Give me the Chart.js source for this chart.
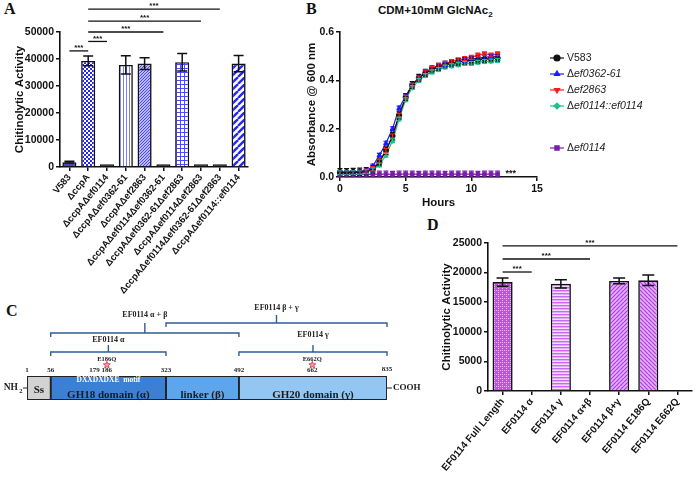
<!DOCTYPE html>
<html>
<head>
<meta charset="utf-8">
<script src="https://cdn.jsdelivr.net/npm/chart.js@4.4.1/dist/chart.umd.min.js"></script>
<style>
body{margin:0;width:696px;height:482px;background:#fff;position:relative;overflow:hidden;font-family:"Liberation Sans",Arial,sans-serif}
.box{position:absolute}
.letter{position:absolute;font:bold 16px "Liberation Serif","Times New Roman",serif;color:#111}
.title{position:absolute;font:bold 11.5px "Liberation Sans",Arial,sans-serif;color:#111;white-space:nowrap}
.title sub{font-size:8px}
</style>
</head>
<body>
<div class="letter" style="left:4px;top:0px">A</div>
<div class="letter" style="left:306px;top:0px">B</div>
<div class="letter" style="left:6px;top:302px">C</div>
<div class="letter" style="left:427px;top:216px">D</div>
<div class="title" style="left:378px;top:4px">CDM+10mM GlcNAc<sub>2</sub></div>

<div class="box" style="left:0;top:0;width:250px;height:300px"><canvas id="chartA"></canvas></div>
<div class="box" style="left:290px;top:0;width:406px;height:215px"><canvas id="chartB"></canvas></div>
<div class="box" style="left:0;top:290px;width:430px;height:130px"><canvas id="chartC"></canvas></div>
<div class="box" style="left:340px;top:230px;width:356px;height:252px"><canvas id="chartD"></canvas></div>

<script>
// ---- panel A: chitinolytic activity of strains ----
var strainsA = ["V583", "ΔccpA", "ΔccpAΔef0114", "ΔccpAΔef0362-61", "ΔccpAΔef2863",
  "ΔccpAΔef0114Δef0362-61", "ΔccpAΔef0362-61Δef2863", "ΔccpAΔef0114Δef2863",
  "ΔccpAΔef0114Δef0362-61Δef2863", "ΔccpAΔef0114::ef0114"];
var activityA = [1800, 39300, 1000, 37800, 38300, 1000, 38800, 1000, 1000, 38300];
var errorA = [300, 1800, 0, 3400, 2200, 0, 3200, 0, 0, 3000];
// [from bar, to bar, level]
var sigA = [[0, 1, 43000], [1, 2, 46500], [1, 5, 50000], [1, 7, 54000], [1, 8, 58500]];

// ---- panel B: growth curves ----
var hoursB = [0, 0.5, 1, 1.5, 2, 2.5, 3, 3.5, 4, 4.5, 5, 5.5, 6, 6.5, 7, 7.5, 8, 8.5, 9, 9.5, 10, 10.5, 11, 11.5, 12];
var strainsB = ["V583", "Δef0362-61", "Δef2863", "Δef0114::ef0114", "Δef0114"];
var odV583 = [0.020, 0.020, 0.021, 0.022, 0.024, 0.032, 0.060, 0.110, 0.170, 0.255, 0.330, 0.380, 0.410, 0.430, 0.445, 0.455, 0.465, 0.470, 0.475, 0.480, 0.482, 0.485, 0.488, 0.490, 0.492];
var odEf0362 = [0.018, 0.018, 0.019, 0.020, 0.025, 0.045, 0.090, 0.140, 0.200, 0.285, 0.335, 0.380, 0.410, 0.430, 0.445, 0.455, 0.465, 0.470, 0.478, 0.482, 0.488, 0.492, 0.495, 0.498, 0.500];
var odEf2863 = [0.018, 0.018, 0.019, 0.020, 0.024, 0.035, 0.065, 0.110, 0.170, 0.255, 0.330, 0.380, 0.410, 0.435, 0.450, 0.462, 0.470, 0.478, 0.485, 0.490, 0.495, 0.505, 0.510, 0.505, 0.510];
var odComp = [0.018, 0.018, 0.018, 0.019, 0.022, 0.030, 0.050, 0.090, 0.150, 0.240, 0.320, 0.370, 0.400, 0.420, 0.435, 0.445, 0.455, 0.460, 0.465, 0.470, 0.470, 0.475, 0.478, 0.480, 0.482];
var odEf0114 = [0.012, 0.012, 0.011, 0.012, 0.012, 0.011, 0.012, 0.012, 0.011, 0.012, 0.012, 0.012, 0.011, 0.012, 0.012, 0.012, 0.011, 0.012, 0.012, 0.012, 0.012, 0.011, 0.012, 0.012, 0.012];
var errV583 = 0.015, errMutants = 0.008, errEf0114 = 0.012;

// ---- panel C: EF0114 domains ----
var domainsC = ["Ss", "GH18 domain (α)", "linker (β)", "GH20 domain (γ)"];
var domainStart = [1, 56, 323, 492];
var domainEnd = [56, 323, 492, 835];
var residueMarks = [1, 56, 179, 186, 323, 492, 662, 835];
var mutations = [["E186Q", 186], ["E662Q", 662]];
var fragments = [["EF0114 α", 56, 323], ["EF0114 α + β", 56, 492], ["EF0114 γ", 492, 835], ["EF0114 β + γ", 323, 835]];

// ---- panel D: truncated EF0114 constructs ----
var constructsD = ["EF0114 Full Length", "EF0114 α", "EF0114 γ", "EF0114 α+β", "EF0114 β+γ", "EF0114 E186Q", "EF0114 E662Q"];
var activityD = [18400, 0, 18100, 0, 18600, 18700, 0];
var errorD = [700, 0, 700, 0, 500, 900, 0];
var sigD = [[0, 1, 20100], [0, 3, 22300], [0, 6, 24500]];

Chart.defaults.font.family = "'Liberation Sans', Arial, sans-serif";
Chart.defaults.color = '#111';
Chart.defaults.animation = false;

function pattern(size, bg, draw) {
  var c = document.createElement('canvas');
  c.width = c.height = size;
  var g = c.getContext('2d');
  g.fillStyle = bg;
  g.fillRect(0, 0, size, size);
  draw(g);
  return g.createPattern(c, 'repeat');
}
function diag(color, w, flip) {
  return function (g) {
    var s = g.canvas.width;
    g.strokeStyle = color; g.lineWidth = w;
    for (var k = -1; k <= 1; k++) {
      g.beginPath();
      if (flip) { g.moveTo(k * s, 0); g.lineTo(k * s + s, s); }
      else { g.moveTo(k * s, s); g.lineTo(k * s + s, 0); }
      g.stroke();
    }
  };
}

var blue = '#2626f5';
var fillsA = [
  '#4b45c8',
  pattern(4, blue, function (g) { g.fillStyle = '#fff'; g.fillRect(0, 0, 2, 2); g.fillRect(2, 2, 2, 2); }),
  '#111',
  pattern(3, '#fff', function (g) { g.fillStyle = '#7b7bff'; g.fillRect(0, 0, 1, 3); }),
  pattern(3, '#b8b8ff', diag('#4a4aff', 1, false)),
  '#111',
  pattern(4, '#fff', function (g) { g.fillStyle = '#4a4aff'; g.fillRect(0, 0, 1, 4); g.fillRect(0, 0, 4, 1); }),
  '#111', '#111',
  pattern(7, '#fff', diag(blue, 2.4, false))
];
var violet = '#c050ea';
var fillsD = [
  pattern(4, violet, function (g) { g.fillStyle = '#eab8fb'; g.fillRect(0, 0, 1, 1); g.fillRect(2, 2, 1, 1); g.fillRect(2, 0, 1, 1); }),
  '#111',
  pattern(3, '#f4dcfc', function (g) { g.fillStyle = '#c868f0'; g.fillRect(0, 0, 3, 1.4); }),
  '#111',
  pattern(4, '#e2aefa', diag('#b03ee0', 1.2, false)),
  pattern(4, '#e2aefa', diag('#b03ee0', 1.2, true)),
  '#111'
];

// error bars + significance brackets for the bar charts
var barMarks = {
  id: 'barMarks',
  afterDatasetsDraw: function (chart, args, opts) {
    var ctx = chart.ctx, y = chart.scales.y, meta = chart.getDatasetMeta(0);
    var ds = chart.data.datasets[0];
    ctx.save();
    ctx.strokeStyle = '#111';
    ctx.lineWidth = 1.5;
    meta.data.forEach(function (bar, i) {
      var e = opts.errors[i];
      if (!e) return;
      var v = ds.data[i], t = y.getPixelForValue(v + e), b = y.getPixelForValue(v - e);
      ctx.beginPath();
      ctx.moveTo(bar.x, t); ctx.lineTo(bar.x, b);
      ctx.moveTo(bar.x - opts.cap, t); ctx.lineTo(bar.x + opts.cap, t);
      ctx.moveTo(bar.x - opts.cap, b); ctx.lineTo(bar.x + opts.cap, b);
      ctx.stroke();
    });
    ctx.lineWidth = 1.3;
    ctx.fillStyle = '#111';
    ctx.font = 'bold 8px "Liberation Sans", Arial, sans-serif';
    ctx.textAlign = 'center';
    ctx.textBaseline = 'bottom';
    opts.sig.forEach(function (s) {
      var x1 = meta.data[s[0]].x, x2 = meta.data[s[1]].x, yy = y.getPixelForValue(s[2]);
      ctx.beginPath(); ctx.moveTo(x1, yy); ctx.lineTo(x2, yy); ctx.stroke();
      ctx.fillText('***', (x1 + x2) / 2, yy + 1);
    });
    ctx.restore();
  }
};

function barChart(id, labels, values, fills, errors, sig, lay) {
  return new Chart(document.getElementById(id), {
    type: 'bar',
    data: {
      labels: labels,
      datasets: [{
        data: values,
        backgroundColor: fills,
        borderColor: '#111',
        borderWidth: 1.6,
        barPercentage: lay.bar,
        categoryPercentage: 1
      }]
    },
    options: {
      responsive: true,
      maintainAspectRatio: false,
      layout: { padding: lay.padding },
      plugins: {
        legend: { display: false },
        tooltip: { enabled: false },
        barMarks: { errors: errors, sig: sig, cap: lay.cap }
      },
      scales: {
        x: {
          grid: { drawOnChartArea: false, offset: false, tickLength: 4, color: '#111', lineWidth: 1.5 },
          border: { color: '#111', width: 1.6 },
          ticks: { autoSkip: false, minRotation: 50, maxRotation: 50, padding: 1, font: { size: lay.xFont, weight: 'bold' } },
          afterFit: function (s) { s.height = lay.xHeight; }
        },
        y: {
          min: 0, max: lay.max,
          grid: { drawOnChartArea: false, tickLength: 4, color: '#111', lineWidth: 1.5 },
          border: { color: '#111', width: 1.6 },
          ticks: { stepSize: lay.step, padding: 2, font: { size: 10.5, weight: 'bold' }, callback: function (v) { return v; } },
          title: { display: true, text: 'Chitinolytic Activity', font: { size: 11.5, weight: 'bold' }, padding: { top: lay.titlePad, bottom: 0 } },
          afterFit: function (s) { s.width = lay.yWidth; }
        }
      }
    },
    plugins: [barMarks]
  });
}

barChart('chartA', strainsA, activityA, fillsA, errorA, sigA, {
  bar: 0.75, cap: 5, max: 50000, step: 10000, xFont: 9.5, xHeight: 133, yWidth: 60, titlePad: 13,
  padding: { top: 32, right: 2, left: 0, bottom: 0 }
});

barChart('chartD', constructsD, activityD, fillsD, errorD, sigD, {
  bar: 0.69, cap: 6, max: 25000, step: 5000, xFont: 10, xHeight: 91, yWidth: 148, titlePad: 100,
  padding: { top: 13, right: 4, left: 0, bottom: 0 }
});

// ---- panel B ----
var colorsB = ['#111111', '#1a1aff', '#ff1a1a', '#1fc28a', '#7a1fa8'];
var stylesB = ['circle', 'triangle', 'triangle', 'rectRot', 'rect'];
var rotB = [0, 0, 180, 0, 0];
var seriesB = [odV583, odEf0362, odEf2863, odComp, odEf0114];
var errB = [errV583, errMutants, errMutants, errMutants, errEf0114];

var curveMarks = {
  id: 'curveMarks',
  afterDatasetsDraw: function (chart) {
    var ctx = chart.ctx, y = chart.scales.y, x = chart.scales.x, area = chart.chartArea;
    ctx.save();
    ctx.lineWidth = 1.2;
    chart.data.datasets.forEach(function (ds, d) {
      ctx.strokeStyle = d === 0 ? '#111' : ds.borderColor;
      chart.getDatasetMeta(d).data.forEach(function (pt, i) {
        var v = ds.data[i].y, e = errB[d];
        var t = y.getPixelForValue(v + e), b = y.getPixelForValue(Math.max(v - e, 0));
        ctx.beginPath();
        ctx.moveTo(pt.x, t); ctx.lineTo(pt.x, b);
        ctx.moveTo(pt.x - 2.5, t); ctx.lineTo(pt.x + 2.5, t);
        ctx.moveTo(pt.x - 2.5, b); ctx.lineTo(pt.x + 2.5, b);
        ctx.stroke();
      });
    });
    ctx.fillStyle = '#111';
    ctx.font = 'bold 9px "Liberation Sans", Arial, sans-serif';
    ctx.textAlign = 'center';
    ctx.textBaseline = 'middle';
    ctx.fillText('***', x.getPixelForValue(13), y.getPixelForValue(0.015));

    // legend
    var rows = [26, 42, 58, 74, 116];
    var lx = area.right + 20;
    chart.data.datasets.forEach(function (ds, d) {
      var ly = area.top + rows[d];
      ctx.strokeStyle = ds.borderColor;
      ctx.fillStyle = ds.borderColor;
      ctx.lineWidth = 1.2;
      ctx.beginPath(); ctx.moveTo(lx - 7, ly); ctx.lineTo(lx + 7, ly); ctx.stroke();
      Chart.helpers.drawPoint(ctx, { pointStyle: stylesB[d], radius: 3, rotation: rotB[d], borderWidth: 1 }, lx, ly);
      ctx.fillStyle = '#222';
      ctx.textAlign = 'left';
      var tx = lx + 10, label = ds.label;
      if (label.charAt(0) === 'Δ') {
        ctx.font = '10.5px "Liberation Sans", Arial, sans-serif';
        ctx.fillText('Δ', tx, ly);
        tx += ctx.measureText('Δ').width;
        ctx.font = 'italic 10.5px "Liberation Sans", Arial, sans-serif';
        ctx.fillText(label.slice(1), tx, ly);
      } else {
        ctx.font = '10.5px "Liberation Sans", Arial, sans-serif';
        ctx.fillText(label, tx, ly);
      }
    });
    ctx.restore();
  }
};

new Chart(document.getElementById('chartB'), {
  type: 'line',
  data: {
    datasets: strainsB.map(function (name, d) {
      return {
        label: name,
        data: hoursB.map(function (h, i) { return { x: h, y: seriesB[d][i] }; }),
        borderColor: colorsB[d],
        backgroundColor: colorsB[d],
        borderWidth: 1.2,
        pointStyle: stylesB[d],
        pointRotation: rotB[d],
        pointRadius: 2.6,
        pointBorderWidth: 1,
        tension: 0,
        clip: false
      };
    })
  },
  options: {
    responsive: true,
    maintainAspectRatio: false,
    layout: { padding: { top: 32, right: 159, left: 0, bottom: 0 } },
    plugins: { legend: { display: false }, tooltip: { enabled: false } },
    scales: {
      x: {
        type: 'linear', min: 0, max: 15,
        grid: { drawOnChartArea: false, tickLength: 4, color: '#111', lineWidth: 1.5 },
        border: { color: '#111', width: 1.6 },
        ticks: { stepSize: 5, padding: 2, maxRotation: 0, font: { size: 10.5, weight: 'bold' } },
        title: { display: true, text: 'Hours', font: { size: 11.5, weight: 'bold' }, padding: { top: 0, bottom: 5 } },
        afterFit: function (s) { s.height = 38; }
      },
      y: {
        min: 0, max: 0.6,
        grid: { drawOnChartArea: false, tickLength: 4, color: '#111', lineWidth: 1.5 },
        border: { color: '#111', width: 1.6 },
        ticks: { stepSize: 0.2, padding: 2, font: { size: 10.5, weight: 'bold' }, callback: function (v) { return v.toFixed(1); } },
        title: { display: true, text: 'Absorbance @ 600 nm', font: { size: 11.5, weight: 'bold' }, padding: { top: 15, bottom: 0 } },
        afterFit: function (s) { s.width = 50; }
      }
    }
  },
  plugins: [curveMarks]
});

// ---- panel C ----
var domainColors = ['#d2d2d2', '#3b80d4', '#5ea6ec', '#93c6f2'];
var serif = '"Liberation Serif", "Times New Roman", serif';

function star(ctx, cx, cy, r) {
  ctx.beginPath();
  for (var k = 0; k < 10; k++) {
    var a = -Math.PI / 2 + k * Math.PI / 5, rr = k % 2 ? r * 0.45 : r;
    ctx.lineTo(cx + rr * Math.cos(a), cy + rr * Math.sin(a));
  }
  ctx.closePath();
  ctx.fill();
  ctx.stroke();
}

var schematic = {
  id: 'schematic',
  afterDatasetsDraw: function (chart) {
    var ctx = chart.ctx, x = chart.scales.x, a = chart.chartArea;
    var top = a.top, bot = a.bottom, mid = (top + bot) / 2;
    ctx.save();
    ctx.textAlign = 'center';
    ctx.textBaseline = 'middle';

    // domain names
    domainsC.forEach(function (name, i) {
      var cx = (x.getPixelForValue(domainStart[i]) + x.getPixelForValue(domainEnd[i])) / 2;
      ctx.fillStyle = '#1b1b1b';
      ctx.font = 'bold 11px ' + serif;
      ctx.fillText(name, cx, i === 0 ? mid + 2 : mid + 7);
      if (i === 1) {
        ctx.fillStyle = '#fff';
        ctx.font = 'bold 7.5px ' + serif;
        ctx.fillText('DXXDXDXE  motif', cx, top + 4.5);
      }
    });

    // residue numbers
    ctx.fillStyle = '#222';
    ctx.font = 'bold 7px ' + serif;
    residueMarks.forEach(function (r) {
      var px = x.getPixelForValue(r);
      if (r === 179) { ctx.textAlign = 'right'; px -= 4; }
      else ctx.textAlign = 'center';
      ctx.fillText(String(r), px, top - (r === 835 ? 7 : 6));
    });
    ctx.textAlign = 'center';

    // mutation sites
    mutations.forEach(function (m) {
      var px = x.getPixelForValue(m[1]);
      ctx.fillStyle = '#222';
      ctx.font = 'bold 6.5px ' + serif;
      ctx.fillText(m[0], px, top - 17);
      ctx.strokeStyle = '#e0424e';
      ctx.fillStyle = '#f3a0a6';
      ctx.lineWidth = 1;
      star(ctx, px, top - 11, 3.6);
    });

    // fragment brackets: [bracket y, stem top y, label y] above the boxes
    var lev = [[24, 31, 36], [43, 53, 61], [24, 31, 41], [53, 61, 68]];
    ctx.strokeStyle = '#2f5c9a';
    ctx.lineWidth = 1.4;
    fragments.forEach(function (f, i) {
      var x1 = x.getPixelForValue(f[1]), x2 = x.getPixelForValue(f[2]);
      var by = top - lev[i][0], cx = (x1 + x2) / 2;
      ctx.beginPath();
      ctx.moveTo(x1, by + 4); ctx.lineTo(x1, by); ctx.lineTo(x2, by); ctx.lineTo(x2, by + 4);
      ctx.moveTo(cx, by); ctx.lineTo(cx, top - lev[i][1]);
      ctx.stroke();
      ctx.fillStyle = '#222';
      ctx.font = 'bold 8px ' + serif;
      ctx.fillText(f[0], cx, top - lev[i][2]);
    });

    // termini
    ctx.strokeStyle = '#222';
    ctx.lineWidth = 1.2;
    ctx.beginPath();
    ctx.moveTo(a.left - 4, mid); ctx.lineTo(a.left, mid);
    ctx.moveTo(a.right, mid); ctx.lineTo(a.right + 5, mid);
    ctx.stroke();
    ctx.fillStyle = '#1b1b1b';
    ctx.font = 'bold 9.5px ' + serif;
    ctx.textAlign = 'right';
    ctx.fillText('NH', a.left - 9, mid);
    ctx.font = 'bold 6.5px ' + serif;
    ctx.fillText('2', a.left - 4.5, mid + 3);
    ctx.textAlign = 'left';
    ctx.font = 'bold 9px ' + serif;
    ctx.fillText('COOH', a.right + 6, mid);
    ctx.restore();
  }
};

new Chart(document.getElementById('chartC'), {
  type: 'bar',
  data: {
    labels: ['EF0114'],
    datasets: domainsC.map(function (name, i) {
      return {
        label: name,
        data: [[domainStart[i], domainEnd[i]]],
        backgroundColor: domainColors[i],
        borderColor: '#222',
        borderWidth: 1.3,
        borderSkipped: false,
        grouped: false,
        barPercentage: 1,
        categoryPercentage: 1
      };
    })
  },
  options: {
    indexAxis: 'y',
    responsive: true,
    maintainAspectRatio: false,
    layout: { padding: { top: 86, bottom: 20, left: 27, right: 43 } },
    plugins: { legend: { display: false }, tooltip: { enabled: false } },
    scales: {
      x: { display: false, min: 1, max: 835 },
      y: { display: false }
    }
  },
  plugins: [schematic]
});
</script>
</body>
</html>
